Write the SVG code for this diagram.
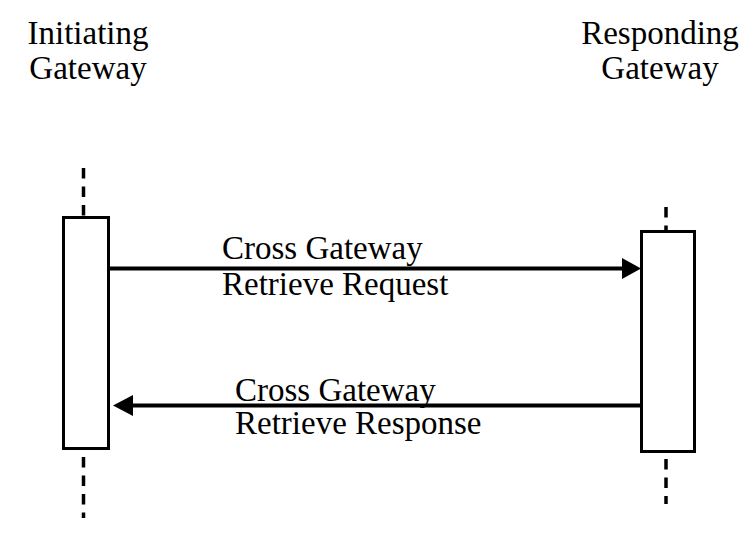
<svg xmlns="http://www.w3.org/2000/svg" width="746" height="544" viewBox="0 0 746 544">
<style>
text{font-family:"Liberation Serif","Times New Roman",serif;font-size:33px;fill:#000}
.box{fill:#fff;stroke:#000;stroke-width:3}
.life{stroke:#000;stroke-width:3.5;stroke-dasharray:10.5 8;fill:none}
.msg{stroke:#000;stroke-width:4;fill:none}
</style>
<g id="initiating">
<text x="88" y="44" text-anchor="middle">Initiating</text>
<text x="88" y="79" text-anchor="middle">Gateway</text>
<line class="life" x1="83.5" y1="168" x2="83.5" y2="216"/>
<line class="life" x1="83.5" y1="457" x2="83.5" y2="518"/>
<rect class="box" x="63.5" y="217.5" width="45" height="231"/>
</g>
<g id="responding">
<text x="660" y="44" text-anchor="middle">Responding</text>
<text x="660" y="79" text-anchor="middle">Gateway</text>
<line class="life" x1="666" y1="207" x2="666" y2="231"/>
<line class="life" x1="666" y1="459" x2="666" y2="504"/>
<rect class="box" x="641.5" y="231.5" width="53" height="220"/>
</g>
<g id="connectors">
<line class="msg" x1="110" y1="268.5" x2="624" y2="268.5"/>
<polygon points="622,258 641,268.5 622,279" fill="#000"/>
<line class="msg" x1="643" y1="405.5" x2="131" y2="405.5"/>
<polygon points="133,395 113,405.5 133,416" fill="#000"/>
</g>
<g id="labels">
<text x="222" y="259">Cross Gateway</text>
<text x="222" y="295">Retrieve Request</text>
<text x="235" y="401">Cross Gateway</text>
<text x="235" y="434">Retrieve Response</text>
</g>
</svg>
